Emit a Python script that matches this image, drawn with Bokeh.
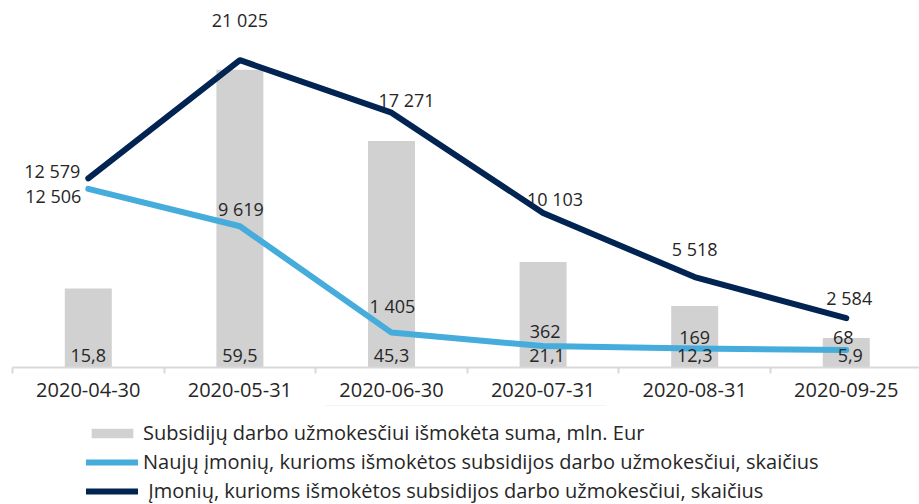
from bokeh.plotting import figure
from bokeh.layouts import column
from bokeh.models import (ColumnDataSource, Range1d, LinearAxis, FixedTicker,
                          Legend, LegendItem)
from bokeh.core.properties import value
from bokeh.embed import file_html
from bokeh.resources import INLINE

# ---- data ----
dates = ["2020-04-30", "2020-05-31", "2020-06-30", "2020-07-31", "2020-08-31", "2020-09-25"]
subsidies_mln_eur = [15.8, 59.5, 45.3, 21.1, 12.3, 5.9]
new_companies = [12506, 9619, 1405, 362, 169, 68]
companies = [12579, 21025, 17271, 10103, 5518, 2584]

series_names = [
    "Subsidijų darbo užmokesčiui išmokėta suma, mln. Eur",
    "Naujų įmonių, kurioms išmokėtos subsidijos darbo užmokesčiui, skaičius",
    " Įmonių, kurioms išmokėtos subsidijos darbo užmokesčiui, skaičius",
]

# ---- label placement (screen-pixel offsets, style only) ----
bar_dx = [0, 0, 0, 4, 0, 4]
navy_dx = [-8, 0, 15, 12, 0, 3]
navy_dy = [-7, -40, -13, -14, -28, -20]
navy_align = ["right", "center", "center", "center", "center", "center"]
blue_dx = [-7, 1, 1, 2, 0, -3]
blue_dy = [7, -17, -27, -15, -11, -12]
blue_align = ["right", "center", "center", "center", "center", "center"]

FONT = "Open Sans"
TXT = "#262626"
GREY = "#d1d1d1"
BLUE = "#45acdc"
NAVY = "#022452"
AXIS = "#d9d9d9"

xc = [i + 0.5 for i in range(len(dates))]

def fmt_int(v):
    return f"{v:,}".replace(",", " ")

def fmt_dec(v):
    return f"{v:.1f}".replace(".", ",")

src = ColumnDataSource(dict(
    x=xc, bars=subsidies_mln_eur, blue=new_companies, navy=companies,
    bar_lbl=[fmt_dec(v) for v in subsidies_mln_eur],
    blue_lbl=[fmt_int(v) for v in new_companies],
    navy_lbl=[fmt_int(v) for v in companies],
    zero=[0] * len(dates),
    bar_dx=bar_dx, navy_dx=navy_dx, navy_dy=navy_dy, navy_align=navy_align,
    blue_dx=blue_dx, blue_dy=blue_dy, blue_align=blue_align,
))

# ---------------- main chart ----------------
p = figure(width=919, height=405, output_backend="svg",
           toolbar_location=None, x_range=Range1d(0, 5.983),
           y_range=Range1d(0, 73.36),
           min_border_left=12, min_border_right=0, min_border_top=0, min_border_bottom=38,
           x_axis_location=None, y_axis_location=None)
p.outline_line_color = None
p.grid.visible = False

p.extra_y_ranges = {
    "navy": Range1d(-943.6, 25291.0),
    "blue": Range1d(-1289.8, 27054.0),
}

xaxis = LinearAxis(ticker=FixedTicker(ticks=xc, minor_ticks=list(range(0, 7))),
                   major_label_overrides={x: d for x, d in zip(xc, dates)})
xaxis.axis_line_color = AXIS
xaxis.axis_line_width = 2
xaxis.major_tick_out = 0
xaxis.major_tick_in = 0
xaxis.minor_tick_out = 6
xaxis.minor_tick_in = 0
xaxis.minor_tick_line_color = AXIS
xaxis.minor_tick_line_width = 2
xaxis.major_label_text_font = FONT
xaxis.major_label_text_font_size = "20px"
xaxis.major_label_text_color = TXT
xaxis.major_label_standoff = 9
p.add_layout(xaxis, "below")

bar_style = dict(width=0.31, fill_color=GREY, line_color=None)
blue_style = dict(line_color=BLUE, line_width=6, line_cap="round", line_join="round")
navy_style = dict(line_color=NAVY, line_width=6, line_cap="round", line_join="round")

p.vbar(x="x", top="bars", source=src, **bar_style)
p.line(x="x", y="blue", source=src, y_range_name="blue", **blue_style)
p.line(x="x", y="navy", source=src, y_range_name="navy", **navy_style)

common = dict(text_font=value(FONT), text_font_size="18px", text_color=TXT,
              text_baseline="middle")
p.text(x="x", y="zero", text="bar_lbl", source=src, x_offset="bar_dx", y_offset=-12,
       text_align="center", **common)
p.text(x="x", y="blue", text="blue_lbl", source=src, x_offset="blue_dx", y_offset="blue_dy",
       text_align="blue_align", y_range_name="blue", **common)
p.text(x="x", y="navy", text="navy_lbl", source=src, x_offset="navy_dx", y_offset="navy_dy",
       text_align="navy_align", y_range_name="navy", **common)

# ---------------- legend strip ----------------
lg = figure(width=919, height=99, output_backend="svg", toolbar_location=None,
            x_range=Range1d(0, 1), y_range=Range1d(-1000, -999),
            min_border_left=0, min_border_right=0, min_border_top=0, min_border_bottom=0,
            x_axis_location=None, y_axis_location=None)
lg.outline_line_color = None
lg.grid.visible = False
r_bar = lg.vbar(x="x", top="bars", source=src, **bar_style)
r_blue = lg.line(x="x", y="blue", source=src, **blue_style)
r_navy = lg.line(x="x", y="navy", source=src, **navy_style)

legend = Legend(items=[
    LegendItem(label=series_names[0], renderers=[r_bar]),
    LegendItem(label=series_names[1], renderers=[r_blue]),
    LegendItem(label=series_names[2], renderers=[r_navy]),
], location=(74, 0), orientation="vertical")
legend.border_line_color = None
legend.background_fill_alpha = 0
legend.margin = 0
legend.padding = 0
legend.glyph_width = 52
legend.glyph_height = 12
legend.label_standoff = 5
legend.spacing = 2
legend.label_height = 20
legend.label_text_font = FONT
legend.label_text_font_size = "20px"
legend.label_text_color = TXT
lg.add_layout(legend, "center")

layout = column(p, lg, spacing=0)
open("out.html", "w").write(file_html(layout, INLINE))
